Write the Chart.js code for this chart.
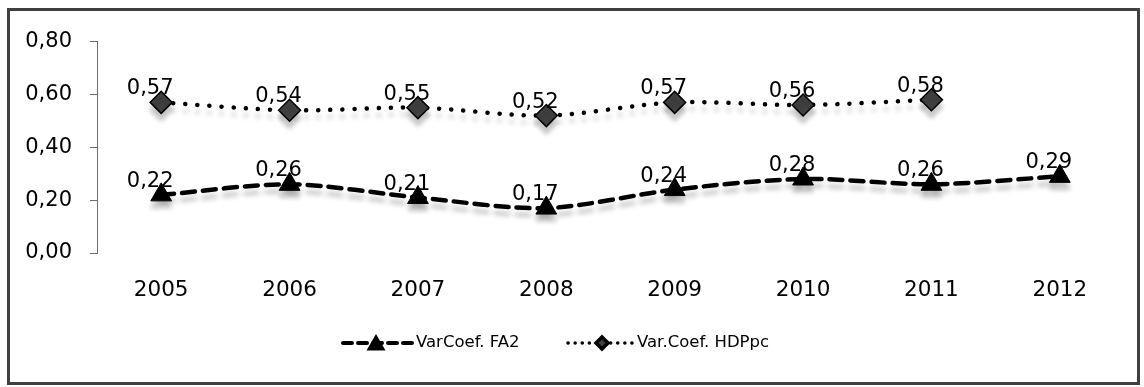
<!DOCTYPE html>
<html>
<head>
<meta charset="utf-8">
<script src="https://cdn.jsdelivr.net/npm/chart.js@4/dist/chart.umd.min.js"></script>
<style>
  html, body { margin: 0; padding: 0; background: #fff; }
  #frame {
    position: absolute; left: 7px; top: 8px;
    width: 1133px; height: 377px;
    box-sizing: border-box;
    border: 3px solid #404040;
    background: #fff;
  }
  #chart { display: block; }
</style>
</head>
<body>
<div id="frame"><canvas id="chart" width="1127" height="371"></canvas></div>
<script>
// anos e séries
const anos = ['2005', '2006', '2007', '2008', '2009', '2010', '2011', '2012'];
const varCoefFA2 = [0.22, 0.26, 0.21, 0.17, 0.24, 0.28, 0.26, 0.29];
const varCoefHDPpc = [0.57, 0.54, 0.55, 0.52, 0.57, 0.56, 0.58, null];
const yTicks = [0, 0.2, 0.4, 0.6, 0.8];

const fmt = v => v.toFixed(2).replace('.', ',');
const FONT = '"DejaVu Sans", sans-serif';

// sombra suave por baixo de cada série
const sombra = {
    id: 'sombra',
    beforeDatasetDraw(chart) {
        const ctx = chart.ctx;
        ctx.save();
        ctx.shadowColor = 'rgba(0,0,0,0.22)';
        ctx.shadowBlur = 5;
        ctx.shadowOffsetY = 7;
    },
    afterDatasetDraw(chart) {
        chart.ctx.restore();
    }
};

// rótulos de dados acima dos pontos
const rotulos = {
    id: 'rotulos',
    afterDatasetsDraw(chart) {
        const ctx = chart.ctx;
        ctx.save();
        ctx.font = '21px ' + FONT;
        ctx.fillStyle = '#000';
        ctx.textAlign = 'center';
        ctx.textBaseline = 'alphabetic';
        chart.data.datasets.forEach((ds, i) => {
            chart.getDatasetMeta(i).data.forEach((pt, j) => {
                const v = ds.data[j];
                if (v == null) return;
                ctx.fillText(fmt(v), pt.x - 11, pt.y - 8);
            });
        });
        ctx.restore();
    }
};

// legenda desenhada à mão para mostrar linha + marcador
const legenda = {
    id: 'legenda',
    afterDraw(chart) {
        const ctx = chart.ctx;
        const y = 332;
        const itens = [
            { x0: 333, x1: 402, mx: 366, texto: 'VarCoef. FA2', ds: chart.data.datasets[0], r: 7 },
            { x0: 558, x1: 623, mx: 592, texto: 'Var.Coef. HDPpc', ds: chart.data.datasets[1], r: 6 }
        ];
        ctx.save();
        itens.forEach(it => {
            ctx.beginPath();
            ctx.setLineDash(it.ds.legendDash);
            ctx.lineCap = 'round';
            ctx.lineWidth = it.ds.legendWidth;
            ctx.strokeStyle = '#000';
            ctx.moveTo(it.x0, y);
            ctx.lineTo(it.x1, y);
            ctx.stroke();
            ctx.setLineDash([]);
            ctx.fillStyle = it.ds.pointBackgroundColor;
            ctx.strokeStyle = it.ds.pointBorderColor;
            Chart.helpers.drawPoint(ctx, {
                pointStyle: it.ds.pointStyle, radius: it.r, rotation: 0, borderWidth: 1
            }, it.mx, y + (it.ds.pointStyle === 'triangle' ? 2 : 0));
            ctx.font = '16.5px ' + FONT;
            ctx.fillStyle = '#000';
            ctx.textAlign = 'left';
            ctx.textBaseline = 'middle';
            ctx.fillText(it.texto, it.x1 + 4, y);
        });
        ctx.restore();
    }
};

new Chart(document.getElementById('chart'), {
    type: 'line',
    data: {
        labels: anos,
        datasets: [
            {
                label: 'VarCoef. FA2',
                data: varCoefFA2,
                borderColor: '#000',
                borderWidth: 4.5,
                borderDash: [13, 8],
                borderCapStyle: 'round',
                tension: 0.3,
                pointStyle: 'triangle',
                pointRadius: 12,
                pointBackgroundColor: '#000',
                pointBorderColor: '#000',
                pointBorderWidth: 1,
                legendDash: [9, 6],
                legendWidth: 4
            },
            {
                label: 'Var.Coef. HDPpc',
                data: varCoefHDPpc,
                borderColor: '#000',
                borderWidth: 4.5,
                borderDash: [0.1, 12],
                borderCapStyle: 'round',
                tension: 0.3,
                pointStyle: 'rectRot',
                pointRadius: 11,
                pointBackgroundColor: '#404040',
                pointBorderColor: '#000',
                pointBorderWidth: 1.5,
                legendDash: [0.1, 7],
                legendWidth: 3.5
            }
        ]
    },
    options: {
        responsive: false,
        animation: false,
        events: [],
        layout: { padding: { top: 27, right: 13, left: 0, bottom: 0 } },
        plugins: { legend: { display: false }, tooltip: { enabled: false } },
        scales: {
            x: {
                offset: true,
                grid: { display: false },
                border: { display: false },
                ticks: { color: '#000', font: { family: FONT, size: 21.5 }, padding: 17 },
                afterFit(axis) { axis.height = 129; }
            },
            y: {
                min: 0,
                max: 0.8,
                afterBuildTicks(axis) { axis.ticks = yTicks.map(v => ({ value: v })); },
                grid: { drawOnChartArea: false, drawTicks: true, tickLength: 7, color: '#6d6d6d' },
                border: { display: true, color: '#6d6d6d', width: 1 },
                ticks: { color: '#000', font: { family: FONT, size: 21 }, padding: 18, callback: v => fmt(v) },
                afterFit(axis) { axis.width = 87; }
            }
        }
    },
    plugins: [sombra, rotulos, legenda]
});
</script>
</body>
</html>
